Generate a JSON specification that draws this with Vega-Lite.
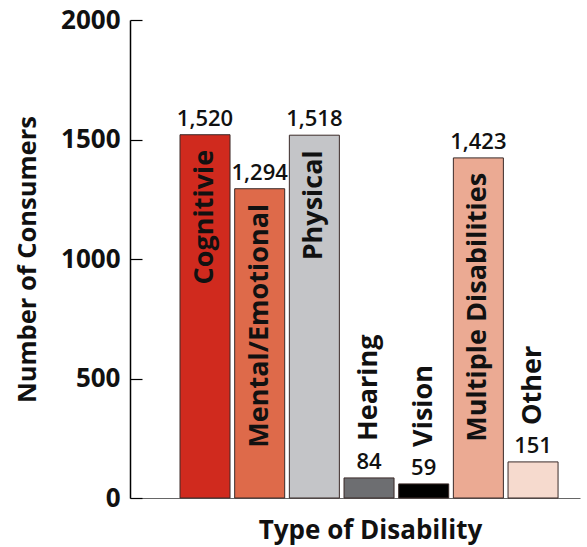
{
  "$schema": "https://vega.github.io/schema/vega-lite/v6.json",
  "width": 450,
  "height": 478,
  "autosize": {"type": "none"},
  "padding": {"left": 130, "top": 20, "right": 7, "bottom": 49},
  "background": "white",
  "config": {"view": {"stroke": null}, "font": "Open Sans"},
  "data": {
    "values": [
      {"type": "Cognitivie", "count": 1520},
      {"type": "Mental/Emotional", "count": 1294},
      {"type": "Physical", "count": 1518},
      {"type": "Hearing", "count": 84},
      {"type": "Vision", "count": 59},
      {"type": "Multiple Disabilities", "count": 1423},
      {"type": "Other", "count": 151}
    ]
  },
  "encoding": {
    "x": {
      "field": "type", "type": "nominal", "sort": null,
      "scale": {"paddingInner": 0.085, "paddingOuter": 0.658, "align": 0.695},
      "axis": {
        "title": "Type of Disability", "labels": false, "ticks": false,
        "domainColor": "#666666", "domainWidth": 1.2,
        "titleFontSize": 26, "titleFontWeight": "bold", "titleColor": "#111111",
        "titlePadding": 19, "titleX": 240
      }
    },
    "y": {
      "field": "count", "type": "quantitative",
      "scale": {"domain": [0, 2000], "nice": false},
      "axis": {
        "title": "Number of Consumers", "values": [0, 500, 1000, 1500, 2000], "format": "d",
        "grid": false, "tickSize": -12, "labelPadding": 22,
        "domainColor": "#000000", "tickColor": "#000000", "domainWidth": 1.5, "tickWidth": 1.2,
        "labelFontSize": 26, "labelFontWeight": "bold", "labelColor": "#111111",
        "titleFontSize": 25.5, "titleFontWeight": "bold", "titleColor": "#111111",
        "titlePadding": 20
      }
    }
  },
  "layer": [
    {
      "mark": {"type": "bar", "stroke": "#3a2a28", "strokeWidth": 1},
      "encoding": {
        "color": {
          "field": "type", "type": "nominal", "legend": null,
          "scale": {
            "domain": ["Cognitivie", "Mental/Emotional", "Physical", "Hearing", "Vision", "Multiple Disabilities", "Other"],
            "range": ["#D02A1E", "#DE6A4A", "#C4C5C8", "#6D6E71", "#000000", "#EBAA93", "#F6DACE"]
          }
        }
      }
    },
    {
      "mark": {"type": "text", "baseline": "alphabetic", "dy": -9, "fontSize": 22, "fontWeight": 600, "color": "#111111"},
      "encoding": {"text": {"field": "count", "type": "quantitative", "format": ",d"}}
    },
    {
      "transform": [{"filter": "datum.count > 1000"}],
      "mark": {"type": "text", "angle": -90, "align": "right", "baseline": "middle", "dx": -15, "fontSize": 27, "fontWeight": "bold", "color": "#111111"},
      "encoding": {"text": {"field": "type", "type": "nominal"}}
    },
    {
      "transform": [{"filter": "datum.count <= 1000"}],
      "mark": {"type": "text", "angle": -90, "align": "left", "baseline": "middle", "dx": 37, "fontSize": 27, "fontWeight": "bold", "color": "#111111"},
      "encoding": {"text": {"field": "type", "type": "nominal"}}
    }
  ]
}
